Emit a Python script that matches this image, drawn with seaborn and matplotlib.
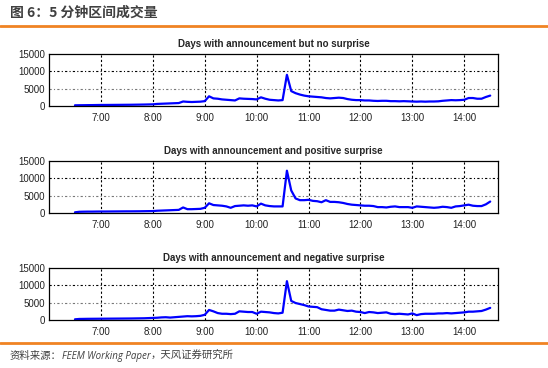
import numpy as np
import pandas as pd
import matplotlib
matplotlib.use("Agg")
import matplotlib.pyplot as plt
import seaborn as sns

sns.set_style("ticks")
plt.rcParams['font.family'] = ['Liberation Sans', 'Noto Sans CJK SC', 'DejaVu Sans']

# 5-minute bars from 6:30 to 14:30
times = np.arange(97) / 12 + 6.5

no_surprise = [200, 220, 230, 250, 260, 280, 300,
               300, 310, 320, 330, 340, 350, 360, 380, 400, 420, 450,
               480, 600, 650, 700, 750, 800, 850,
               1300, 1200, 1150, 1200, 1250,
               1400, 2800, 2200, 2100, 1900, 1800, 1700,
               1600, 2200, 2100, 2050, 2000,
               1900, 2500, 2100, 1800, 1700, 1600, 1700,
               9000, 4300, 3700, 3300, 3000, 2800,
               2700, 2600, 2500, 2300, 2200, 2300, 2400, 2300, 2000, 1800,
               1700, 1700, 1600, 1600, 1500, 1450, 1500, 1500,
               1400, 1400, 1350, 1400, 1350, 1300,
               1250, 1300, 1250, 1300, 1300, 1350,
               1500, 1600, 1700, 1650, 1700, 1800,
               2300, 2300, 2100, 2100, 2600, 3000]

positive = [200, 350, 380, 400, 400, 420, 430,
            430, 440, 450, 460, 470, 480, 480, 490, 500, 520, 540,
            560, 650, 700, 750, 800, 850, 900,
            1600, 1100, 1100, 1150, 1200,
            1500, 2800, 2300, 2200, 2100, 1900, 1500,
            2000, 2100, 2200, 2100, 2200,
            1900, 2700, 2200, 2000, 1900, 1900, 1900,
            12200, 6500, 4200, 3700, 3700, 3800,
            3500, 3400, 3100, 3700, 3200, 3200, 3100, 2900, 2600, 2400,
            2300, 2200, 2100, 2100, 2000, 1700, 1700, 1600,
            1800, 1900, 1700, 1700, 1700, 1500,
            1900, 1800, 1700, 1600, 1500, 1600,
            1800, 1700, 1500, 1900, 2000, 2200,
            2400, 2100, 2000, 2000, 2500, 3300]

negative = [200, 300, 320, 340, 350, 360, 370,
            380, 390, 400, 410, 420, 430, 440, 460, 480, 500, 550,
            600, 650, 750, 800, 700, 800, 900,
            1000, 1100, 1050, 1100, 1200,
            1500, 2900, 2500, 2000, 1800, 1800, 1700,
            1800, 2500, 2400, 2300, 2300,
            1800, 2400, 2300, 2200, 2000, 1900, 2100,
            11200, 5500, 4900, 4600, 4300, 3900,
            3800, 3700, 3100, 2900, 2700, 2700, 3000, 2800, 2600, 2700,
            2400, 2300, 2000, 2300, 2200, 2000, 2100, 2200,
            1800, 1700, 1800, 1700, 1600, 1900,
            1400, 1700, 1800, 1800, 1800, 1900,
            1900, 2000, 1900, 2000, 2100, 2200,
            2400, 2400, 2500, 2600, 3000, 3500]

titles = ['Days with announcement but no surprise',
          'Days with announcement and positive surprise',
          'Days with announcement and negative surprise']
hour_ticks = [7, 8, 9, 10, 11, 12, 13, 14]
hour_labels = ['7:00', '8:00', '9:00', '10:00', '11:00', '12:00', '13:00', '14:00']
y_ticks = [0, 5000, 10000, 15000]

fig = plt.figure(figsize=(5.48, 3.68), dpi=100)
H = 368.0
bottoms = [106, 213, 320]
series = [no_surprise, positive, negative]

for k in range(3):
    ax = fig.add_axes([49 / 548, 1 - bottoms[k] / H, 449 / 548, 52 / H])
    df = pd.DataFrame({'t': times, 'v': series[k]})
    sns.lineplot(data=df, x='t', y='v', ax=ax, color='#0000ff', linewidth=1.6)
    ax.set_xlim(6.0, 14.65)
    ax.set_ylim(0, 15000)
    ax.set_xticks(hour_ticks)
    ax.set_xticklabels(hour_labels)
    ax.set_yticks(y_ticks)
    ax.set_yticklabels([str(v) for v in y_ticks])
    ax.set_xlabel('')
    ax.set_ylabel('')
    ax.tick_params(labelsize=7, length=0, colors='#222222')
    ax.tick_params(axis='x', pad=5)
    ax.tick_params(axis='y', pad=3)
    for h in hour_ticks:
        ax.axvline(h, color='black', linestyle=(0, (2, 2)), linewidth=0.8, zorder=0)
    ax.axhline(10000, color='black', linestyle=(0, (2, 2, 1, 2)), linewidth=0.8, zorder=0)
    ax.axhline(5000, color='#777777', linestyle=(0, (2, 2, 1, 2)), linewidth=0.8, zorder=0)
    for s in ax.spines.values():
        s.set_visible(True)
        s.set_linewidth(0.9)
        s.set_color('black')
    ax.set_title(titles[k], fontsize=7, fontweight='bold', pad=5)

# header and footer
cjk = ['Noto Sans CJK SC', 'DejaVu Sans']
fig.text(10 / 548, 1 - 13 / H, '图 6：5 分钟区间成交量', fontsize=10, fontweight='bold',
         color='#404040', va='center', family=cjk)
fig.add_artist(plt.Line2D([0, 1], [1 - 26 / H, 1 - 26 / H], color='#f08323', linewidth=2))
fig.add_artist(plt.Line2D([0, 1], [1 - 343 / H, 1 - 343 / H], color='#f08323', linewidth=2))

renderer = fig.canvas.get_renderer()
x = 10 / 548
parts = [('资料来源：', cjk, 'normal', 7.5),
         ('FEEM Working Paper', ['Open Sans', 'DejaVu Sans'], 'italic', 7),
         ('，天风证券研究所', cjk, 'normal', 7.5)]
for txt, fam, sty, fs in parts:
    t = fig.text(x, 1 - 356 / H, txt, fontsize=fs, color='#404040', va='center',
                 style=sty, family=fam)
    bb = t.get_window_extent(renderer=renderer)
    x += bb.width / (548 * fig.dpi / 100)

fig.savefig('out.png', dpi=100)
